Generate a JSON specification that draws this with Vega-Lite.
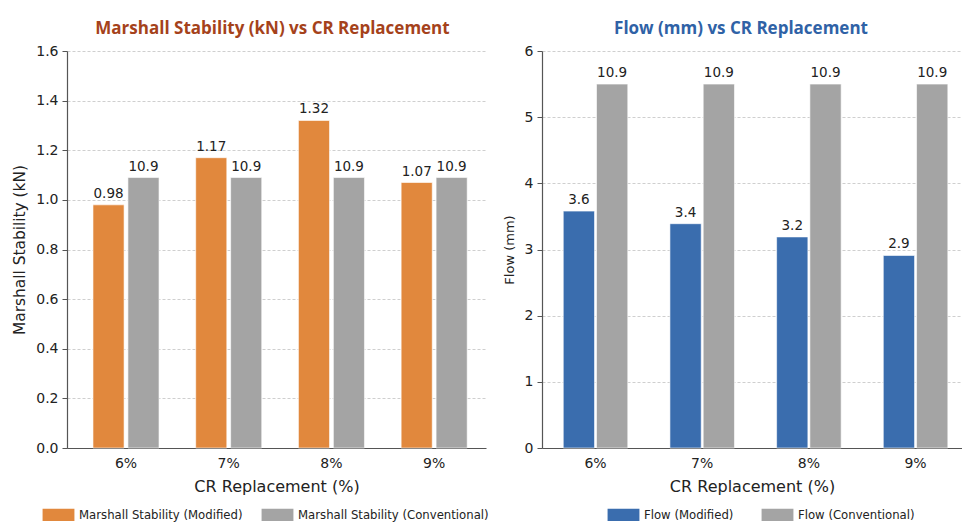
{
  "$schema": "https://vega.github.io/schema/vega-lite/v6.json",
  "background": "white",
  "padding": {"left": 12, "top": 20, "right": 0, "bottom": 0},
  "datasets": {
    "d": [
      {"panel": "ms", "cr": "6%", "series": "Marshall Stability (Modified)", "value": 0.98, "label": "0.98"},
      {"panel": "ms", "cr": "6%", "series": "Marshall Stability (Conventional)", "value": 1.09, "label": "10.9"},
      {"panel": "ms", "cr": "7%", "series": "Marshall Stability (Modified)", "value": 1.17, "label": "1.17"},
      {"panel": "ms", "cr": "7%", "series": "Marshall Stability (Conventional)", "value": 1.09, "label": "10.9"},
      {"panel": "ms", "cr": "8%", "series": "Marshall Stability (Modified)", "value": 1.32, "label": "1.32"},
      {"panel": "ms", "cr": "8%", "series": "Marshall Stability (Conventional)", "value": 1.09, "label": "10.9"},
      {"panel": "ms", "cr": "9%", "series": "Marshall Stability (Modified)", "value": 1.07, "label": "1.07"},
      {"panel": "ms", "cr": "9%", "series": "Marshall Stability (Conventional)", "value": 1.09, "label": "10.9"},
      {"panel": "fl", "cr": "6%", "series": "Flow (Modified)", "value": 3.58, "label": "3.6"},
      {"panel": "fl", "cr": "6%", "series": "Flow (Conventional)", "value": 5.5, "label": "10.9"},
      {"panel": "fl", "cr": "7%", "series": "Flow (Modified)", "value": 3.39, "label": "3.4"},
      {"panel": "fl", "cr": "7%", "series": "Flow (Conventional)", "value": 5.5, "label": "10.9"},
      {"panel": "fl", "cr": "8%", "series": "Flow (Modified)", "value": 3.19, "label": "3.2"},
      {"panel": "fl", "cr": "8%", "series": "Flow (Conventional)", "value": 5.5, "label": "10.9"},
      {"panel": "fl", "cr": "9%", "series": "Flow (Modified)", "value": 2.91, "label": "2.9"},
      {"panel": "fl", "cr": "9%", "series": "Flow (Conventional)", "value": 5.5, "label": "10.9"}
    ]
  },
  "spacing": 14,
  "resolve": {"scale": {"color": "independent", "y": "independent", "x": "independent", "xOffset": "independent"}, "legend": {"color": "independent"}},
  "hconcat": [
    {
      "width": 419,
      "height": 397,
      "title": {"text": "Marshall Stability (kN) vs CR Replacement", "color": "#A5421B", "anchor": "middle", "dx": -4},
      "data": {"name": "d"},
      "transform": [{"filter": "datum.panel == 'ms'"}],
      "encoding": {
        "x": {"field": "cr", "type": "nominal", "sort": ["6%", "7%", "8%", "9%"], "scale": {"paddingInner": 0.357, "paddingOuter": 0.218, "align": 0.58}, "axis": {"title": "CR Replacement (%)", "labelAngle": 0}},
        "xOffset": {"field": "series", "type": "nominal", "sort": ["Marshall Stability (Modified)", "Marshall Stability (Conventional)"], "scale": {"paddingInner": 0.11}},
        "y": {"field": "value", "type": "quantitative", "scale": {"domain": [0, 1.6]}, "axis": {"title": "Marshall Stability (kN)", "titleFontSize": 15.4, "values": [0, 0.2, 0.4, 0.6, 0.8, 1.0, 1.2, 1.4, 1.6], "format": ".1f"}}
      },
      "layer": [
        {
          "mark": {"type": "bar", "stroke": "white", "strokeWidth": 0.6},
          "encoding": {
            "color": {"field": "series", "type": "nominal", "scale": {"domain": ["Marshall Stability (Modified)", "Marshall Stability (Conventional)"], "range": ["#E1883D", "#A4A4A4"]},
              "legend": {"orient": "none", "legendX": -21, "legendY": 451, "direction": "horizontal", "title": null, "columnPadding": 18}}
          }
        },
        {
          "mark": {"type": "text", "dy": -11, "fontSize": 13.5, "font": "DejaVu Sans", "color": "#222"},
          "encoding": {"text": {"field": "label", "type": "nominal"}}
        }
      ]
    },
    {
      "width": 420,
      "height": 397,
      "title": {"text": "Flow (mm) vs CR Replacement", "color": "#2F62A6", "anchor": "middle", "dx": -11},
      "data": {"name": "d"},
      "transform": [{"filter": "datum.panel == 'fl'"}],
      "encoding": {
        "x": {"field": "cr", "type": "nominal", "sort": ["6%", "7%", "8%", "9%"], "scale": {"paddingInner": 0.395, "paddingOuter": 0.166, "align": 0.6}, "axis": {"title": "CR Replacement (%)", "labelAngle": 0}},
        "xOffset": {"field": "series", "type": "nominal", "sort": ["Flow (Modified)", "Flow (Conventional)"], "scale": {"paddingInner": 0.06}},
        "y": {"field": "value", "type": "quantitative", "scale": {"domain": [0, 6]}, "axis": {"title": "Flow (mm)", "titleFontSize": 13, "values": [0, 1, 2, 3, 4, 5, 6], "format": "d"}}
      },
      "layer": [
        {
          "mark": {"type": "bar", "stroke": "white", "strokeWidth": 0.6},
          "encoding": {
            "color": {"field": "series", "type": "nominal", "scale": {"domain": ["Flow (Modified)", "Flow (Conventional)"], "range": ["#3A6DAE", "#A4A4A4"]},
              "legend": {"orient": "none", "legendX": 69, "legendY": 451, "direction": "horizontal", "title": null, "columnPadding": 27}}
          }
        },
        {
          "mark": {"type": "text", "dy": -11, "fontSize": 13.5, "font": "DejaVu Sans", "color": "#222"},
          "encoding": {"text": {"field": "label", "type": "nominal"}}
        }
      ]
    }
  ],
  "config": {
    "view": {"stroke": null},
    "title": {"font": "Open Sans", "fontSize": 17, "fontWeight": "bold", "offset": 6},
    "axis": {
      "labelFont": "DejaVu Sans", "labelFontSize": 14, "labelColor": "#222",
      "titleFont": "DejaVu Sans", "titleFontSize": 16, "titleFontWeight": "normal", "titleColor": "#222",
      "domainColor": "#555", "domainWidth": 1.2, "tickColor": "#555", "tickSize": 5,
      "gridColor": "#cfcfcf", "gridDash": [3, 2], "gridWidth": 1
    },
    "axisX": {"ticks": false, "grid": false, "labelPadding": 8, "titlePadding": 8, "titleFontSize": 16},
    "axisY": {"labelPadding": 4, "titlePadding": 8},
    "legend": {
      "labelFont": "DejaVu Sans", "labelFontSize": 11.7, "labelColor": "#222", "labelLimit": 0,
      "symbolType": "M-1.3,-0.5H1.3V0.5H-1.3Z", "symbolSize": 600, "symbolStrokeWidth": 0,
      "labelOffset": 8
    }
  }
}
